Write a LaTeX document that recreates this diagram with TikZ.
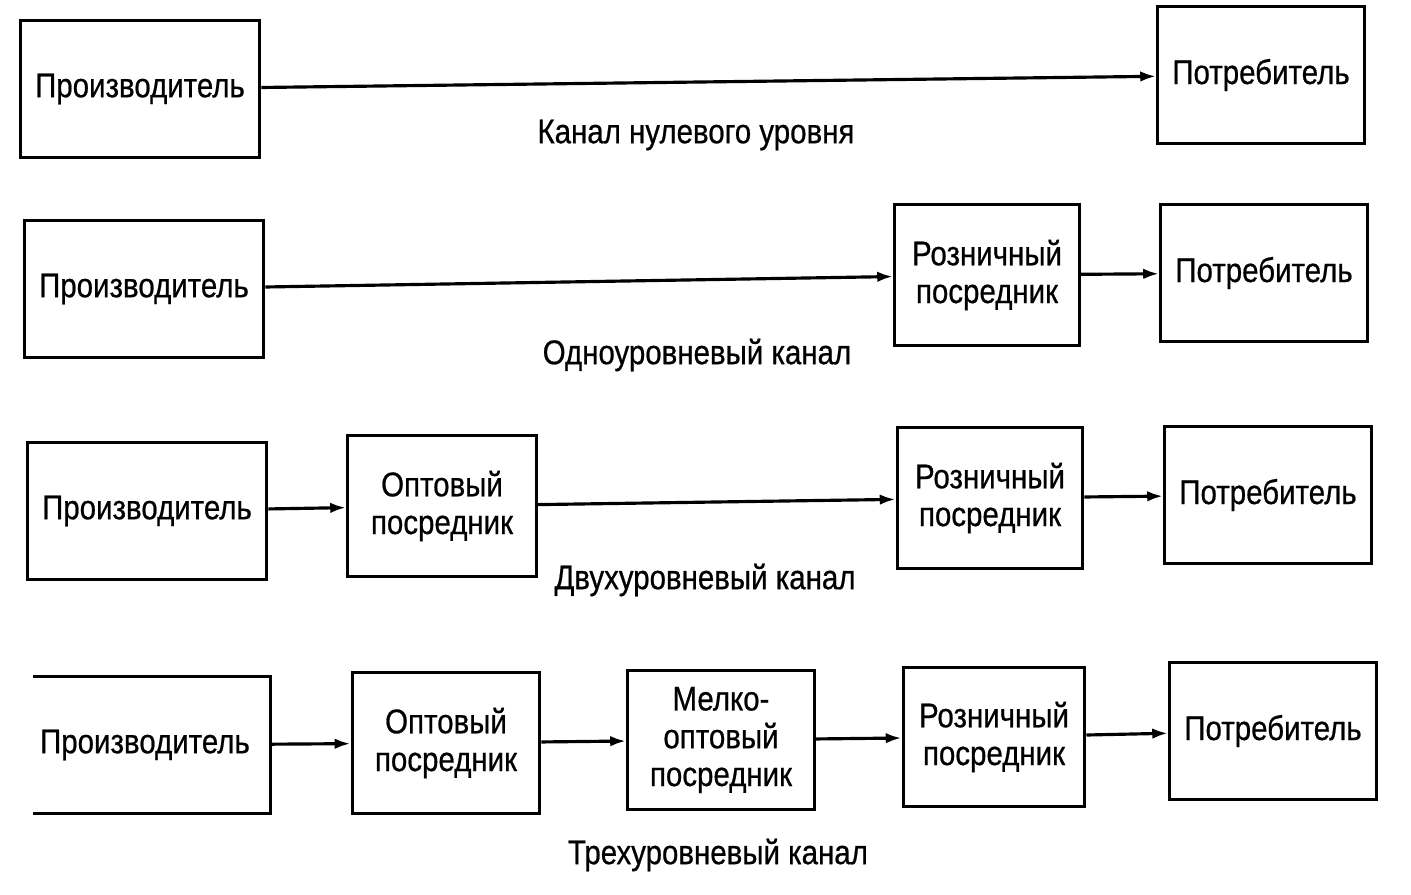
\documentclass[tikz,border=0pt]{standalone}
\usepackage{fontspec}
\usetikzlibrary{arrows.meta}
\setmainfont{Liberation Sans}[FakeStretch=0.86, FakeBold=0.6]
\tikzset{
  blk/.style={draw, line width=1.7pt, align=center, inner sep=0pt,
    font=\fontsize{19.5}{21.5}\selectfont},
  prod/.style={blk, minimum width=4.8cm, minimum height=2.76cm},
  cons/.style={blk, minimum width=4.14cm, minimum height=2.74cm},
  mid/.style={blk, minimum width=3.74cm, minimum height=2.84cm},
  lbl/.style={font=\fontsize{19.5}{21.5}\selectfont},
  >={Latex[length=9pt, width=6pt]}
}
\begin{document}
\begin{tikzpicture}[x=0.02cm, y=-0.02cm, line width=1.8pt]
      \useasboundingbox (0,0) rectangle (1411,895);
      % zero level
      \node[prod] (p1) at (140,89) {Производитель};
      \node[cons] (c1) at (1261,75) {Потребитель};
      \node[lbl] (l1) at (696,135) {Канал нулевого уровня};
      \draw [->] (p1) -- (c1);
      % one level
      \node[prod] (p2) at (144,289) {Производитель};
      \node[mid, minimum width=3.7cm] (r2) at (987,275) {Розничный\\посредник};
      \node[cons] (c2) at (1264,273) {Потребитель};
      \node[lbl] (l2) at (697,355) {Одноуровневый канал};
      \draw [->] (p2) -- (r2);
      \draw [->] (r2) -- (c2);
      % two levels
      \node[prod] (p3) at (147,511) {Производитель};
      \node[mid, minimum width=3.78cm] (w3) at (442,506) {Оптовый\\посредник};
      \node[mid, minimum width=3.72cm] (r3) at (990,498) {Розничный\\посредник};
      \node[cons] (c3) at (1268,495) {Потребитель};
      \node[lbl] (l3) at (705,580) {Двухуровневый канал};
      \draw [->] (p3) -- (w3);
      \draw [->] (w3) -- (r3);
      \draw [->] (r3) -- (c3);
      % three levels
      \node[prod, draw=none, minimum width=4.7cm, minimum height=2.7cm] (p4) at (152,745) {\kern-8pt Производитель};
      \draw [line width=1.7pt] (p4.north west) -- (p4.north east) -- (p4.south east) -- (p4.south west);
      \node[mid, minimum width=3.76cm] (w4) at (446,743) {Оптовый\\посредник};
      \node[mid, minimum height=2.8cm] (s4) at (721,740) {Мелко-\\оптовый\\посредник};
      \node[mid, minimum width=3.64cm, minimum height=2.78cm] (r4) at (994,737) {Розничный\\посредник};
      \node[cons, minimum height=2.76cm] (c4) at (1273,731) {Потребитель};
      \node[lbl] (l4) at (718,855) {Трехуровневый канал};
      \draw [->] (p4) -- (w4);
      \draw [->] (w4) -- (s4);
      \draw [->] (s4) -- (r4);
      \draw [->] (r4) -- (c4);
\end{tikzpicture}
\end{document}
